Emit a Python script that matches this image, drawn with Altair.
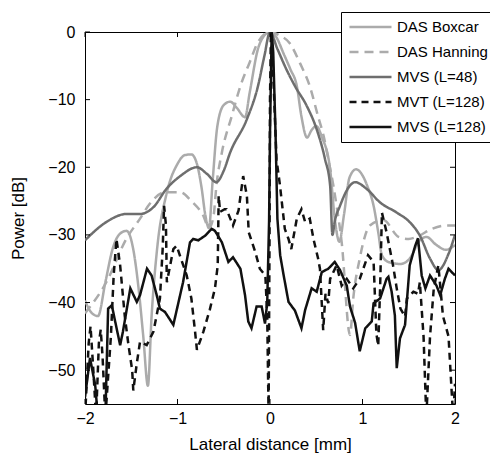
import altair as alt
import pandas as pd

names = ["DAS Boxcar", "DAS Hanning", "MVS (L=48)", "MVT (L=128)", "MVS (L=128)"]
colors = ["#ababab", "#ababab", "#6e6e6e", "#111111", "#111111"]
dashes = [[1, 0], [9, 6], [1, 0], [7, 5], [1, 0]]
x_ticks = [-2, -1, 0, 1, 2]
y_ticks = [0, -10, -20, -30, -40, -50]

boxcar_x = [-2.0, -1.93, -1.86, -1.78, -1.7, -1.62, -1.55, -1.48, -1.42, -1.37, -1.32, -1.28, -1.22,
            -1.12, -1.0, -0.92, -0.85, -0.79, -0.74, -0.70, -0.66, -0.62, -0.57, -0.5, -0.43, -0.36,
            -0.27, -0.22, -0.13, -0.06, 0.0, 0.07, 0.144, 0.22, 0.29, 0.34, 0.40, 0.45, 0.5, 0.56,
            0.65, 0.70, 0.75, 0.8, 0.86, 0.93, 1.0, 1.05, 1.12, 1.17, 1.21, 1.28, 1.41, 1.51, 1.62,
            1.69, 1.8, 1.9, 2.0]
boxcar_y = [-39.7, -41.5, -42.0, -37.0, -32.0, -29.8, -29.4, -32.0, -38.0, -45.0, -52.3, -42.0, -32.0,
            -24.0, -19.5, -18.2, -18.1, -19.5, -23.0, -27.0, -29.0, -22.0, -14.0, -10.8, -10.3, -11.2,
            -12.6, -9.0, -2.5, -0.5, 0.0, -0.8, -3.1, -5.5, -8.0, -12.5, -15.6, -14.5, -13.9, -15.5,
            -20.3, -27.6, -31.0, -27.0, -21.5, -20.3, -21.2, -22.7, -25.7, -29.6, -33.0, -34.0, -34.3,
            -33.5, -30.8, -30.3, -31.5, -32.2, -31.5]

hanning_x = [-2.0, -1.77, -1.55, -1.405, -1.3, -1.135, -0.97, -0.85, -0.72, -0.66, -0.61, -0.58, -0.52,
             -0.415, -0.32, -0.22, -0.13, 0.0, 0.1, 0.216, 0.324, 0.43, 0.52, 0.58, 0.63, 0.685, 0.72,
             0.775, 0.865, 0.9, 0.97, 1.08, 1.225, 1.39, 1.5, 1.6, 1.75, 1.9, 2.0]
hanning_y = [-41.6, -37.0, -30.5, -27.6, -25.4, -23.7, -23.7, -25.0, -27.2, -29.0, -27.2, -22.8, -17.8,
             -12.5, -8.0, -4.5, -1.5, 0.0, -0.5, -1.7, -4.6, -8.0, -12.5, -15.4, -18.8, -22.7, -25.7,
             -31.1, -44.8, -39.4, -33.5, -28.6, -27.8, -30.3, -30.6, -30.2, -29.1, -28.6, -28.6]

mvs48_x = [-2.0, -1.77, -1.55, -1.405, -1.26, -1.12, -0.97, -0.79, -0.68, -0.58, -0.5, -0.43, -0.25,
           -0.13, -0.06, 0.0, 0.08, 0.18, 0.27, 0.4, 0.505, 0.595, 0.65, 0.675, 0.7, 0.757, 0.865,
           0.92, 1.045, 1.19, 1.37, 1.51, 1.62, 1.73, 1.82, 1.93, 2.0]
mvs48_y = [-30.8, -28.1, -26.9, -26.9, -25.9, -23.2, -21.3, -20.0, -21.0, -22.2, -20.5, -17.8, -12.9,
           -8.0, -3.5, 0.0, -2.5, -5.6, -8.0, -11.0, -14.4, -18.8, -22.7, -30.0, -28.0, -25.7, -22.7,
           -22.2, -23.2, -25.2, -26.7, -28.1, -30.1, -33.5, -35.2, -32.8, -30.0]

mvt_x = [-2.0, -1.96, -1.94, -1.91, -1.88, -1.85, -1.83, -1.81, -1.78, -1.72, -1.69, -1.66, -1.62,
         -1.57, -1.53, -1.49, -1.478, -1.44, -1.405, -1.333, -1.26, -1.19, -1.16, -1.145, -1.125,
         -1.115, -1.045, -1.01, -0.9, -0.85, -0.81, -0.79, -0.72, -0.65, -0.595, -0.565, -0.56,
         -0.555, -0.54, -0.49, -0.47, -0.4, -0.34, -0.29, -0.25, -0.23, -0.16, -0.11, -0.05, -0.03,
         -0.015, -0.005, 0.0, 0.01, 0.04, 0.07, 0.108, 0.16, 0.2, 0.23, 0.29, 0.34, 0.38, 0.43, 0.47,
         0.52, 0.54, 0.575, 0.6, 0.63, 0.65, 0.72, 0.775, 0.83, 0.9, 0.97, 1.06, 1.12, 1.15, 1.17,
         1.19, 1.21, 1.26, 1.33, 1.37, 1.41, 1.46, 1.48, 1.55, 1.6, 1.62, 1.66, 1.69, 1.73, 1.77,
         1.82, 1.87, 1.93, 1.98, 2.0]
mvt_y = [-57.0, -46.0, -43.5, -50.0, -57.0, -46.0, -44.0, -48.0, -57.0, -45.0, -36.0, -30.6, -34.5,
         -42.0, -46.3, -50.0, -53.0, -49.0, -45.8, -46.3, -44.3, -39.4, -32.0, -25.7, -28.6,
         -37.0, -32.1, -31.6, -36.0, -39.4, -44.3, -47.0, -44.3, -41.0, -37.9, -34.5, -29.6,
         -24.2, -26.6, -26.2, -26.2, -28.6, -26.4, -21.3, -24.2, -29.6, -32.5, -35.0, -36.0, -42.0,
         -57.0, -30.0, -10.0, 0.0, -8.0, -18.8, -22.7, -29.1, -30.6, -32.1, -27.6, -26.2, -28.1, -27.6, -30.6,
         -33.5, -35.0, -44.1, -38.7, -40.1, -36.5, -34.5, -37.5, -36.5, -37.9, -36.5, -33.0, -34.0, -44.6, -46.4,
         -38.0, -26.7, -29.6, -34.5, -37.9, -40.9, -42.1, -39.4, -38.4, -38.7, -37.0, -45.0, -57.0, -45.0, -38.0,
         -34.5, -42.0, -45.0, -57.0, -52.0]

mvs128_x = [-2.0, -1.946, -1.89, -1.86, -1.78, -1.75, -1.71, -1.68, -1.62, -1.59, -1.51, -1.44, -1.405,
            -1.33, -1.28, -1.225, -1.19, -1.135, -1.045, -0.94, -0.865, -0.83, -0.775, -0.70, -0.63,
            -0.595, -0.52, -0.45, -0.4, -0.32, -0.27, -0.235, -0.2, -0.145, -0.09, -0.054, -0.03,
            -0.01, 0.0, 0.018, 0.035, 0.06, 0.08, 0.11, 0.144, 0.2, 0.27, 0.34, 0.38, 0.45, 0.505,
            0.56, 0.63, 0.70, 0.757, 0.83, 0.865, 0.92, 0.97, 1.03, 1.1, 1.12, 1.19, 1.26, 1.28, 1.315,
            1.35, 1.37, 1.405, 1.46, 1.51, 1.57, 1.6, 1.64, 1.68, 1.73, 1.8, 1.84, 1.89, 1.93, 2.0]
mvs128_y = [-54.0, -48.2, -52.2, -57.0, -57.0, -40.9, -40.4, -42.4, -46.3, -44.3, -37.9, -39.9, -38.9,
            -35.0, -36.0, -38.9, -40.9, -41.4, -43.3, -37.0, -31.1, -30.6, -30.8, -30.1, -29.1,
            -29.4, -31.1, -34.0, -33.3, -35.0, -38.9, -42.8, -43.8, -40.6, -40.6, -43.1, -40.0,
            -28.0, -15.0, 0.0, -3.0, -15.0, -27.6, -33.0, -35.7, -39.9, -41.2, -43.8, -41.1, -37.9, -38.4,
            -35.5, -35.0, -34.0, -35.2, -37.5, -40.6, -43.0, -47.2, -43.8, -42.8, -40.1, -39.4, -36.5, -36.2,
            -38.4, -41.9, -49.7, -45.3, -43.3, -34.5, -31.6, -30.5, -36.0, -37.9, -36.0, -37.5, -38.9,
            -36.5, -35.0, -36.0]

series_x = [boxcar_x, hanning_x, mvs48_x, mvt_x, mvs128_x]
series_y = [boxcar_y, hanning_y, mvs48_y, mvt_y, mvs128_y]

frames = []
for name, xs_, ys_ in zip(names, series_x, series_y):
    frames.append(pd.DataFrame({"x": xs_, "y": ys_, "series": name, "i": range(len(xs_))}))
df = pd.concat(frames, ignore_index=True)

W, H = 370, 372
FONT = "Liberation Sans"

xs = alt.Scale(domain=[-2, 2], nice=False, zero=False)
ys = alt.Scale(domain=[-55, 0], nice=False, zero=False)
cs = alt.Scale(domain=names, range=colors)
ds = alt.Scale(domain=names, range=dashes)

xaxis = alt.Axis(values=x_ticks, title="Lateral distance [mm]", labelPadding=6, titlePadding=10,
                 labelFlush=False, format="d", grid=False, ticks=False, domain=False)
yaxis = alt.Axis(values=y_ticks, title="Power [dB]", labelPadding=10, titlePadding=20,
                 labelFlush=False, format="d", grid=False, ticks=False, domain=False)
leg = alt.Legend(orient="none", legendX=256, legendY=-20, title=None, symbolType="stroke",
                 symbolSize=1764, symbolStrokeWidth=2.5, labelFontSize=15, labelFont=FONT,
                 labelColor="black", strokeColor="black", fillColor="white", padding=7,
                 clipHeight=16, rowPadding=9, labelOffset=4, symbolOffset=0)

layers = []
for k, name in enumerate(names):
    interp = "monotone" if k < 3 else "linear"
    layers.append(
        alt.Chart(df).transform_filter(alt.datum.series == name)
        .mark_line(strokeWidth=2.5, clip=True, interpolate=interp)
        .encode(
            x=alt.X("x:Q", scale=xs, axis=xaxis),
            y=alt.Y("y:Q", scale=ys, axis=yaxis),
            color=alt.Color("series:N", scale=cs, legend=leg),
            strokeDash=alt.StrokeDash("series:N", scale=ds, legend=leg),
            order="i:Q",
        )
    )

xt = pd.DataFrame({"x": x_ticks})
yt = pd.DataFrame({"y": y_ticks})
tick_bottom = alt.Chart(xt).mark_rule(color="black", strokeWidth=1).encode(
    x=alt.X("x:Q", scale=xs, axis=xaxis), y=alt.value(H), y2=alt.value(H - 5))
tick_top = alt.Chart(xt).mark_rule(color="black", strokeWidth=1).encode(
    x=alt.X("x:Q", scale=xs, axis=xaxis), y=alt.value(0), y2=alt.value(5))
tick_left = alt.Chart(yt).mark_rule(color="black", strokeWidth=1).encode(
    y=alt.Y("y:Q", scale=ys, axis=yaxis), x=alt.value(0), x2=alt.value(5))
tick_right = alt.Chart(yt).mark_rule(color="black", strokeWidth=1).encode(
    y=alt.Y("y:Q", scale=ys, axis=yaxis), x=alt.value(W), x2=alt.value(W - 5))

chart = alt.layer(*layers, tick_bottom, tick_top, tick_left, tick_right).properties(
    width=W, height=H,
    autosize=alt.AutoSizeParams(type="none"),
    padding={"left": 77, "top": 24, "right": 35, "bottom": 50},
    background="white",
).configure_view(stroke="black", strokeWidth=1).configure_axis(
    labelFont=FONT, labelFontSize=16, labelColor="black",
    titleFont=FONT, titleFontSize=17, titleFontWeight="normal", titleColor="black",
)

chart.save("out.html", embed_options={"renderer": "svg", "actions": False})
